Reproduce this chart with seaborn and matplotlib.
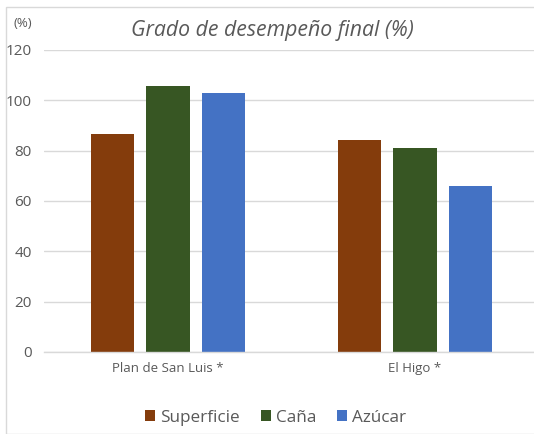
import numpy as np
import pandas as pd
import matplotlib
matplotlib.use('Agg')
import matplotlib.pyplot as plt
import seaborn as sns
from matplotlib.patches import Rectangle

# Data
regiones = ['Plan de San Luis *', 'El Higo *']
series = ['Superficie', 'Caña', 'Azúcar']
superficie = [86.4, 84.2]
cana = [105.7, 81.2]
azucar = [102.9, 65.8]
colores = ['#843C0C', '#375623', '#4472C4']
yticks = [0, 20, 40, 60, 80, 100, 120]

df = pd.DataFrame({
    'region': regiones * 3,
    'serie': [series[0]] * 2 + [series[1]] * 2 + [series[2]] * 2,
    'valor': superficie + cana + azucar,
})

sns.set_style('white')
plt.rcParams['font.family'] = ['Open Sans', 'DejaVu Sans']
txt = '#595959'

fig = plt.figure(figsize=(5.34, 4.34), dpi=100)
ax = fig.add_axes([0.0833, 0.189, 0.925, 0.696])

sns.barplot(data=df, x='region', y='valor', hue='serie', order=regiones,
            hue_order=series, palette=colores, saturation=1, width=0.675, gap=0.218,
            linewidth=0, ax=ax, legend=True)

ax.set_ylim(0, 120)
ax.set_yticks(yticks)
ax.set_xlim(-0.5, 1.5)
ax.yaxis.grid(True, color='#D9D9D9', linewidth=1)
ax.set_axisbelow(True)
for s in ['top', 'right', 'left']:
    ax.spines[s].set_visible(False)
ax.spines['bottom'].set_color('#D9D9D9')
ax.spines['bottom'].set_linewidth(1)
ax.tick_params(axis='both', length=0, colors=txt)
ax.tick_params(axis='y', labelsize=11, pad=9)
ax.tick_params(axis='x', labelsize=9.5, pad=7)
ax.set_xlabel('')
ax.set_ylabel('')

ax.legend(loc='upper center', bbox_to_anchor=(0.468, -0.14), ncol=3,
          frameon=False, fontsize=12.3, handlelength=0.6, handleheight=0.6,
          handletextpad=0.3, columnspacing=1.2, labelcolor=txt)

fig.text(0.51, 0.93, 'Grado de desempeño final (%)', ha='center', va='center',
         fontsize=15.3, style='italic', color=txt)
fig.text(0.042, 0.947, '(%)', ha='center', va='center', fontsize=9.5, color=txt)

fig.add_artist(Rectangle((0.011, 0.0), 0.995, 0.984, transform=fig.transFigure,
                         fill=False, edgecolor='#D9D9D9', linewidth=1))

fig.savefig('out.png', dpi=100)
